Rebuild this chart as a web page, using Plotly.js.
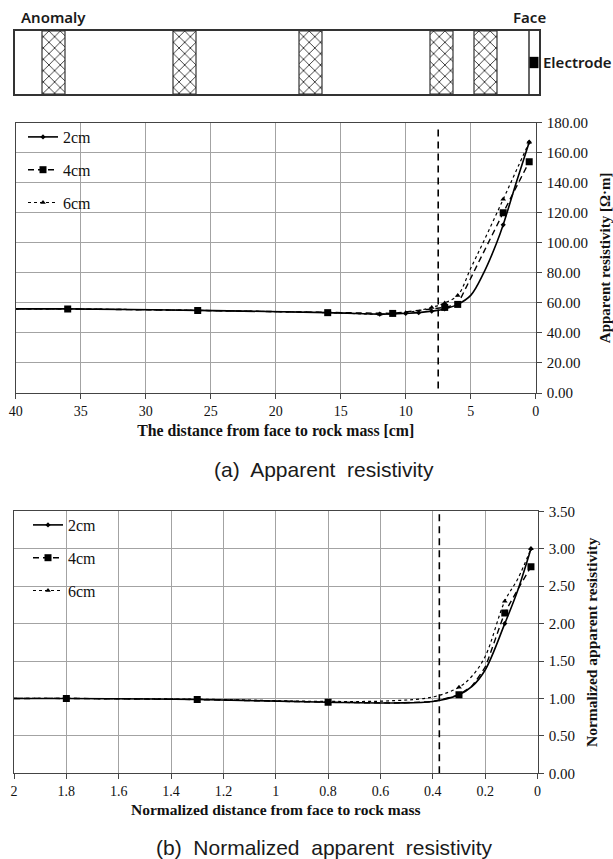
<!DOCTYPE html>
<html>
<head>
<meta charset="utf-8">
<script src="https://cdn.plot.ly/plotly-3.0.1.min.js"></script>
<style>html,body{margin:0;padding:0;background:#fff}#c{width:613px;height:859px}</style>
</head>
<body>
<div id="c"></div>
<script>
// Panel (a): apparent resistivity
const aX2 = [40,36,26,16,12,11,10,9,8,7,6,5,4,3,2.5,1.5,0.5];
const aY2 = [56,56,55,53.5,52.5,52.6,53,53.5,54.5,56,59,65,80,100,112,140,167];
const aMarked2 = [36,26,16,12,11,10,9,8,7,6,2.5,0.5];
const aX4 = [40,36,26,16,11,7,6,2.5,0.5];
const aY4 = [56,56,55,53.5,53,57,59,120,154];
const aMarked4 = [36,26,16,11,7,6,2.5,0.5];
const aX6 = [40,36,26,16,12,10,8,7,6,5,4,2.5,1.5,0.5];
const aY6 = [56,56,55,53.5,52.5,53.5,57,60,65,83,101,129,148,167];
const aMarked6 = [36,26,16,12,10,8,7,6,2.5,0.5];
const aDashX = [7.5,7.5];
const aDashY = [3,177];
// Panel (b): normalized apparent resistivity
const bX2 = [2,1.8,1.3,0.8,0.55,0.4,0.3,0.25,0.2,0.125,0.075,0.025];
const bY2 = [1,1,0.985,0.95,0.94,0.96,1.05,1.16,1.38,2.0,2.45,3.0];
const bMarked2 = [1.8,1.3,0.8,0.3,0.125,0.025];
const bX4 = [2,1.8,1.3,0.8,0.55,0.4,0.3,0.25,0.2,0.125,0.025];
const bY4 = [1,1,0.985,0.95,0.94,0.96,1.05,1.17,1.42,2.14,2.76];
const bMarked4 = [1.8,1.3,0.8,0.3,0.125,0.025];
const bX6 = [2,1.8,1.3,0.8,0.55,0.4,0.3,0.25,0.2,0.125,0.075,0.025];
const bY6 = [1,1,0.99,0.96,0.97,1.02,1.15,1.3,1.56,2.3,2.6,3.0];
const bMarked6 = [1.8,1.3,0.8,0.3,0.125,0.025];
const bDashX = [0.375,0.375];
const bDashY = [0,3.5];
// Schematic
const anomalyCenters = [38.5,169.5,295.5,426.5,470.5];
const anomalyWidths = [23,23,23,23,23];
const anomalyHeights = [1,1,1,1,1];
const seriesNames = ['2cm','4cm','6cm'];

const W=613,H=859;
const dx=(l,r)=>[l/W,r/W];
const dy=(t,b)=>[1-b/H,1-t/H];
const serif='"Liberation Serif", serif';
const ink='#111';

// one series = curve + marks at the measured points + a legend-only key
function series(x,y,marked,name,dash,width,sym,size,xa,ya,leg,group,shape,smoothing){
  const line={color:'#000',dash,width,shape,smoothing};
  const mk={symbol:sym,size,color:'#000'};
  return [
    {type:'scatter',mode:'lines',x,y,xaxis:xa,yaxis:ya,showlegend:false,line,hoverinfo:'skip'},
    {type:'scatter',mode:'markers',x:marked,y:marked.map(v=>y[x.indexOf(v)]),xaxis:xa,yaxis:ya,showlegend:false,marker:mk,hoverinfo:'skip'},
    {type:'scatter',mode:'lines+markers',x:[null],y:[null],name,xaxis:xa,yaxis:ya,legend:leg,legendgroup:group,
      line:{color:'#000',dash,width},marker:mk,hoverinfo:'skip'}
  ];
}
const traces=[
  {type:'bar',x:anomalyCenters,y:anomalyHeights,width:anomalyWidths,xaxis:'x3',yaxis:'y3',showlegend:false,
   marker:{color:'#fff',line:{color:'#333',width:1.2},pattern:{shape:'x',size:8,solidity:0.2,fgcolor:'#222',bgcolor:'#fff'}},hoverinfo:'skip'},
  {type:'scatter',mode:'lines',x:[514,514],y:[0,1],xaxis:'x3',yaxis:'y3',showlegend:false,line:{color:'#333',width:1.5},hoverinfo:'skip'},
  {type:'scatter',mode:'lines',x:[519,519],y:[0.41,0.59],xaxis:'x3',yaxis:'y3',showlegend:false,line:{color:'#000',width:9},hoverinfo:'skip'},

  ...series(aX2,aY2,aMarked2,seriesNames[0],'solid',1.6,'diamond',4,'x','y','legend','a1','spline',1),
  ...series(aX4,aY4,aMarked4,seriesNames[1],'6px,4px',1.4,'square',7,'x','y','legend','a2','linear',0),
  ...series(aX6,aY6,aMarked6,seriesNames[2],'dot',1.2,'triangle-up',5,'x','y','legend','a3','spline',1),
  {type:'scatter',mode:'lines',x:aDashX,y:aDashY,xaxis:'x',yaxis:'y',showlegend:false,line:{color:'#000',dash:'7px,5px',width:1.6},hoverinfo:'skip'},

  ...series(bX2,bY2,bMarked2,seriesNames[0],'solid',1.6,'diamond',4,'x2','y2','legend2','b1','spline',1),
  ...series(bX4,bY4,bMarked4,seriesNames[1],'6px,4px',1.4,'square',7,'x2','y2','legend2','b2','spline',0.4),
  ...series(bX6,bY6,bMarked6,seriesNames[2],'dot',1.2,'triangle-up',5,'x2','y2','legend2','b3','spline',1),
  {type:'scatter',mode:'lines',x:bDashX,y:bDashY,xaxis:'x2',yaxis:'y2',showlegend:false,line:{color:'#000',dash:'7px,5px',width:1.6},hoverinfo:'skip'}
];
const tfx={family:serif,size:14,color:ink};
const tfy={family:serif,size:15,color:ink};
const common={showgrid:true,gridcolor:'#a3a3a3',gridwidth:1,zeroline:false,showline:true,linecolor:'#444',linewidth:1.3,mirror:true,
  ticks:'outside',ticklen:5,tickcolor:'#444'};
const legendBase={bgcolor:'rgba(0,0,0,0)',borderwidth:0,font:{family:serif,size:16,color:ink},tracegroupgap:9,
  traceorder:'grouped',xanchor:'left',yanchor:'top',itemwidth:30};
const ann=(x,y,text,size,family,extra)=>Object.assign({xref:'paper',yref:'paper',x:x/W,y:1-y/H,text,showarrow:false,
  xanchor:'center',yanchor:'middle',font:{family,size,color:'#1a1a1a'}},extra||{});
const sans='"Noto Sans", sans-serif';

const layout={
  width:W,height:H,margin:{l:0,r:0,t:0,b:0},paper_bgcolor:'#fff',plot_bgcolor:'#fff',showlegend:true,barmode:'overlay',
  xaxis:Object.assign({},common,{tickfont:tfx,domain:dx(15.7,535.7),range:[40,0],dtick:5,anchor:'y',
    title:{text:'<b>The distance from face to rock mass [cm]</b>',font:{family:serif,size:15.8,color:ink},standoff:6}}),
  yaxis:Object.assign({},common,{tickfont:tfy,ticklabelstandoff:2,domain:dy(122.7,393),range:[0,180],dtick:20,side:'right',anchor:'x',tickformat:'.2f',
    title:{text:'<b>Apparent resistivity [Ω·m]</b>',font:{family:serif,size:15,color:ink},standoff:12}}),
  xaxis2:Object.assign({},common,{tickfont:tfx,domain:dx(14,537.5),range:[2,0],dtick:0.2,anchor:'y2',
    title:{text:'<b>Normalized distance from face to rock mass</b>',font:{family:serif,size:15.5,color:ink},standoff:5}}),
  yaxis2:Object.assign({},common,{tickfont:tfy,ticklabelstandoff:2,domain:dy(511.3,773.3),range:[0,3.5],dtick:0.5,side:'right',anchor:'x2',tickformat:'.2f',
    title:{text:'<b>Normalized apparent resistivity</b>',font:{family:serif,size:15.5,color:ink},standoff:12}}),
  xaxis3:{domain:dx(15,539),range:[0,524],anchor:'y3',showgrid:false,zeroline:false,showticklabels:false,ticks:'',showline:true,mirror:true,linecolor:'#333',linewidth:1.5},
  yaxis3:{domain:dy(31,94),range:[0,1],anchor:'x3',showgrid:false,zeroline:false,showticklabels:false,ticks:'',showline:true,mirror:true,linecolor:'#333',linewidth:1.5},
  legend:Object.assign({},legendBase,{x:23/W,y:1-120/H}),
  legend2:Object.assign({},legendBase,{x:28/W,y:1-508/H}),
  annotations:[
    ann(53,17,'Anomaly',15,sans,{font:{family:sans,size:15,color:'#1a1a1a',weight:600}}),
    ann(529,17,'Face',15,sans,{font:{family:sans,size:15,color:'#1a1a1a',weight:600}}),
    ann(577,62,'Electrode',15,sans,{font:{family:sans,size:15,color:'#1a1a1a',weight:600}}),
    ann(324,469,'(a)  Apparent  resistivity',21,'"Liberation Sans", sans-serif'),
    ann(324,847,'(b)  Normalized  apparent  resistivity',21,'"Liberation Sans", sans-serif')
  ]
};
Plotly.newPlot('c',traces,layout,{displayModeBar:false,responsive:false});
</script>
</body>
</html>
